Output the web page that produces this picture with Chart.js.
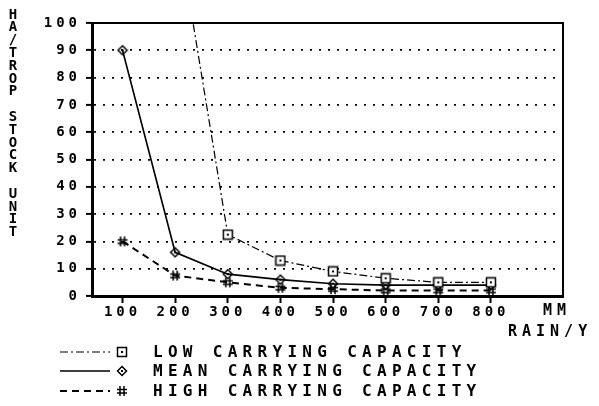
<!DOCTYPE html>
<html>
<head>
<meta charset="utf-8">
<script src="https://cdn.jsdelivr.net/npm/chart.js@4"></script>
<style>
  html, body { margin: 0; padding: 0; background: #fff; }
  canvas { display: block; }
</style>
</head>
<body>
<canvas id="chart" width="599" height="406"></canvas>
<script>
// Datos
const rainfall = [100, 200, 300, 400, 500, 600, 700, 800];
const lowCapacity = [null, 140, 22.5, 13, 9, 6.5, 5, 5];
const meanCapacity = [90, 16, 8, 6, 4.5, 4, 4, 4];
const highCapacity = [20, 7.5, 5, 3, 2.5, 2, 2, 2];
const seriesNames = ['LOW CARRYING CAPACITY', 'MEAN CARRYING CAPACITY', 'HIGH CARRYING CAPACITY'];
const yTitle = 'HA/TROP STOCK UNIT';
const xUnit = 'MM';
const xTitle = 'RAIN/Y';

const MONO = '"DejaVu Sans Mono", "Liberation Mono", monospace';

// Marcadores dibujados en un canvas pequeño
const makeMarker = (kind) => {
    const c = document.createElement('canvas');
    c.width = 12; c.height = 12;
    const g = c.getContext('2d');
    g.strokeStyle = '#000';
    g.fillStyle = '#000';
    g.lineWidth = 1.5;
    if (kind === 'square') {
        g.fillStyle = '#fff';
        g.fillRect(1.5, 1.5, 9, 9);
        g.strokeRect(1.5, 1.5, 9, 9);
        g.fillStyle = '#000';
        g.fillRect(5, 5, 2, 2);
    } else if (kind === 'diamond') {
        g.beginPath();
        g.moveTo(6, 1.5); g.lineTo(10.5, 6); g.lineTo(6, 10.5); g.lineTo(1.5, 6);
        g.closePath();
        g.stroke();
        g.fillRect(5, 5, 2, 2);
    } else {
        g.beginPath();
        g.moveTo(4, 1); g.lineTo(4, 11);
        g.moveTo(8, 1); g.lineTo(8, 11);
        g.moveTo(1, 4.5); g.lineTo(11, 4.5);
        g.moveTo(1, 8); g.lineTo(11, 8);
        g.stroke();
    }
    return c;
};

const markers = [makeMarker('square'), makeMarker('diamond'), makeMarker('hash')];
const dashes = [[8, 3, 2, 3], [], [7, 5]];
const widths = [1.2, 1.6, 2];

const toPoints = (values) => rainfall.map((x, i) => ({ x: x, y: values[i] }));

// Espaciado de letras para el texto de los ejes
const spacingPlugin = {
    id: 'spacing',
    beforeUpdate(chart) { chart.ctx.letterSpacing = '4px'; },
    beforeDraw(chart) { chart.ctx.letterSpacing = '4px'; }
};

// Marco, títulos de ejes y leyenda
const decorPlugin = {
    id: 'decor',
    afterDraw(chart) {
        const ctx = chart.ctx;
        const area = chart.chartArea;
        ctx.save();
        ctx.strokeStyle = '#000';
        ctx.lineWidth = 2;
        ctx.setLineDash([]);
        ctx.beginPath();
        ctx.moveTo(area.left, area.top);
        ctx.lineTo(area.right, area.top);
        ctx.lineTo(area.right, area.bottom);
        ctx.stroke();

        ctx.fillStyle = '#000';
        // Título vertical, letra por letra
        ctx.letterSpacing = '0px';
        ctx.font = 'bold 14px ' + MONO;
        ctx.textAlign = 'center';
        ctx.textBaseline = 'middle';
        [...yTitle].forEach((ch, i) => {
            ctx.fillText(ch, 13, 15 + i * 12.8);
        });

        // Unidad y título del eje x
        ctx.font = 'bold 15px ' + MONO;
        ctx.letterSpacing = '5px';
        ctx.textAlign = 'left';
        ctx.fillText(xUnit, 543, 311);
        ctx.fillText(xTitle, 508, 332);

        // Leyenda
        const rows = [352, 371, 391];
        ctx.font = 'bold 16px ' + MONO;
        ctx.letterSpacing = '5.3px';
        seriesNames.forEach((name, i) => {
            const y = rows[i];
            ctx.lineWidth = widths[i];
            ctx.setLineDash(dashes[i]);
            ctx.beginPath();
            ctx.moveTo(60, y);
            ctx.lineTo(110, y);
            ctx.stroke();
            ctx.setLineDash([]);
            ctx.drawImage(markers[i], 122 - 6, y - 6);
            ctx.fillText(name, 153, y + 1);
        });
        ctx.restore();
    }
};

const makeDataset = (label, values, i) => ({
    label: label,
    data: toPoints(values),
    borderColor: '#000',
    backgroundColor: '#000',
    borderWidth: widths[i],
    borderDash: dashes[i],
    pointStyle: markers[i],
    pointRadius: 5,
    tension: 0,
    fill: false,
});

new Chart(document.getElementById('chart'), {
    type: 'line',
    data: {
        datasets: [
            makeDataset(seriesNames[0], lowCapacity, 0),
            makeDataset(seriesNames[1], meanCapacity, 1),
            makeDataset(seriesNames[2], highCapacity, 2),
        ],
    },
    options: {
        responsive: false,
        animation: false,
        layout: { padding: { left: 0, right: 36, top: 23, bottom: 0 } },
        plugins: {
            legend: { display: false },
            tooltip: { enabled: false },
        },
        scales: {
            x: {
                type: 'linear',
                min: 42,
                max: 937,
                afterBuildTicks: (scale) => { scale.ticks = rainfall.map(v => ({ value: v })); },
                afterFit: (scale) => { scale.height = 110; },
                ticks: {
                    color: '#000',
                    font: { family: MONO, size: 14, weight: 'bold' },
                    padding: 1,
                    maxRotation: 0,
                    autoSkip: false,
                },
                grid: {
                    drawOnChartArea: false,
                    color: '#000',
                    tickLength: 7,
                    tickWidth: 2,
                    tickColor: '#000',
                },
                border: { color: '#000', width: 3 },
            },
            y: {
                min: 0,
                max: 100,
                afterFit: (scale) => { scale.width = 92; },
                ticks: {
                    stepSize: 10,
                    color: '#000',
                    font: { family: MONO, size: 14, weight: 'bold' },
                    padding: 5,
                },
                grid: {
                    color: '#000',
                    lineWidth: 1.8,
                    tickLength: 6,
                    tickWidth: 2,
                    tickColor: '#000',
                    tickBorderDash: [],
                },
                border: { color: '#000', width: 3, dash: [2, 7] },
            },
        },
    },
    plugins: [spacingPlugin, decorPlugin],
});
</script>
</body>
</html>
